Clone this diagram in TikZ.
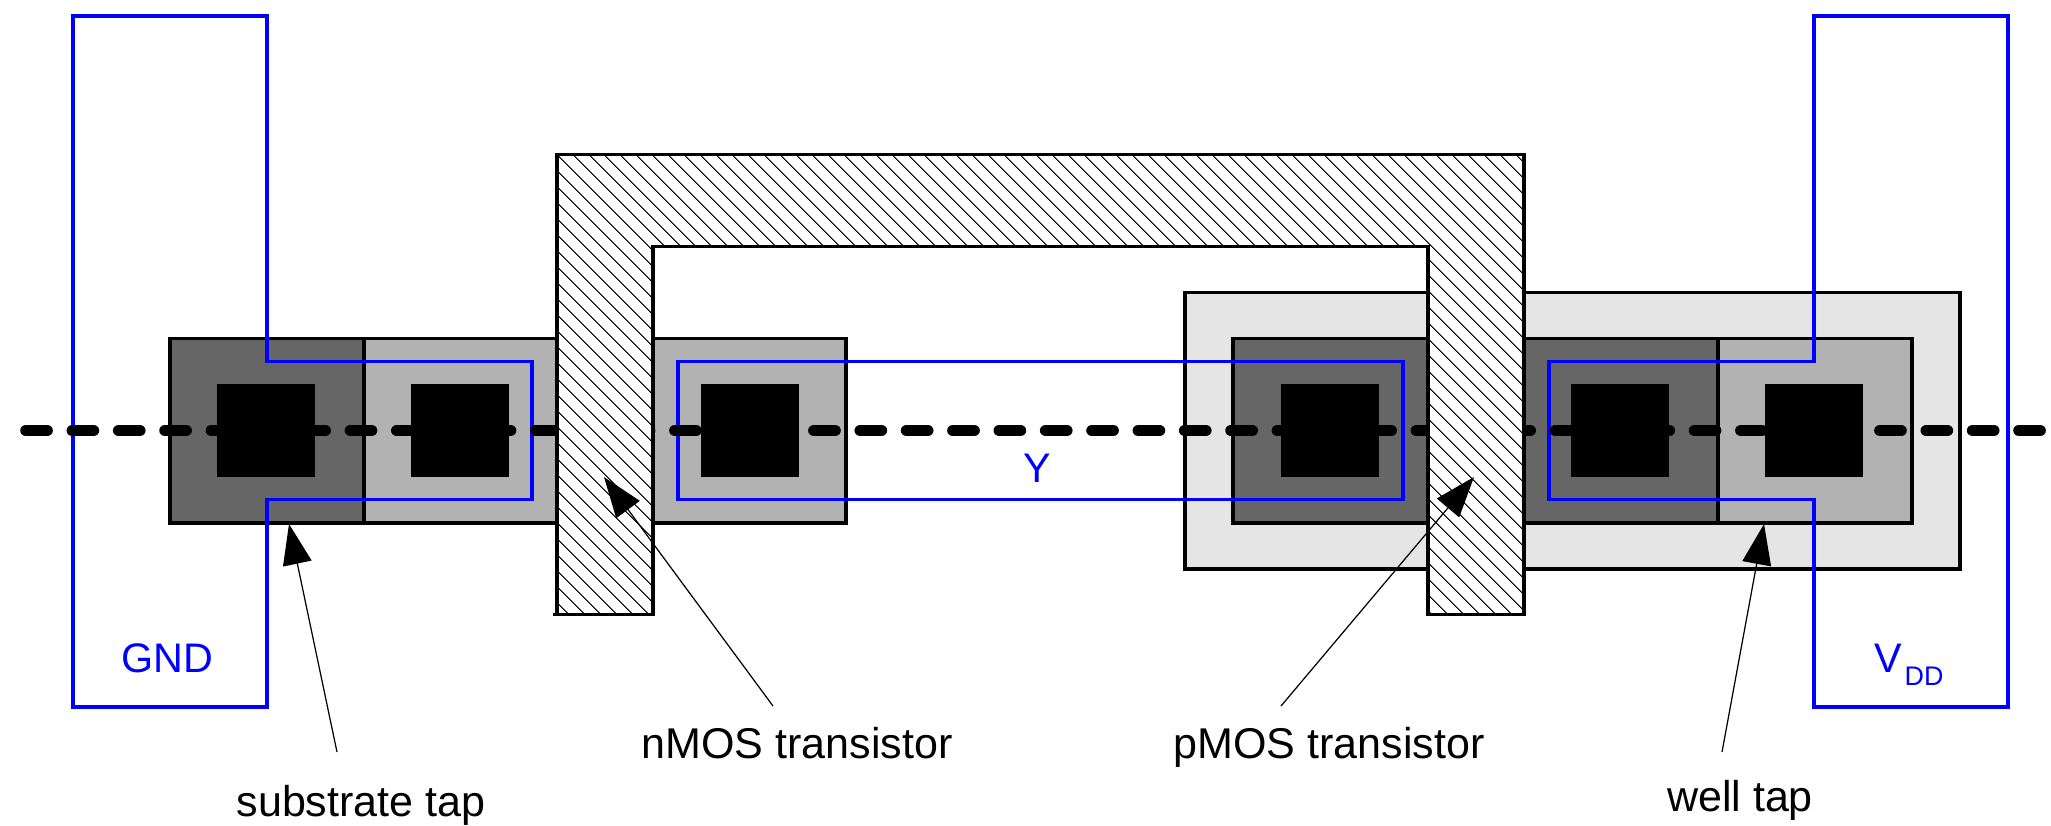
\documentclass[tikz,border=0pt]{standalone}
\usepackage{fontspec}
\setmainfont{Liberation Sans}
\usetikzlibrary{patterns.meta, arrows.meta}
\definecolor{metalblue}{RGB}{0,0,255}

\tikzset{
	layer/.style={draw=black, line width=2pt, line join=miter},
	welltub/.style={layer, fill=black!10},
	darkdiff/.style={layer, fill=black!60},
	lightdiff/.style={layer, fill=black!30},
	metal/.style={draw=metalblue, line width=2.2pt, line join=miter},
	poly/.style={layer, preaction={fill=white}, pattern={Lines[angle=-45, distance=6.4pt, line width=0.55pt]}, pattern color=black},
	callout/.style={line width=0.7pt, -{Triangle[length=23pt, width=16.5pt]}},
	blacklabel/.style={anchor=base, font=\fontsize{24.5}{28}\selectfont},
	bluelabel/.style={anchor=base, text=metalblue, font=\fontsize{23.5}{26}\selectfont}
}

\begin{document}
\begin{tikzpicture}[x=0.02cm, y=-0.02cm]
	\useasboundingbox (0,0) rectangle (2051,825);

	\draw[welltub] (1185,292.5) rectangle (1960,569); % n well
	\draw[darkdiff] (170,338.5) rectangle (364,523);
	\draw[lightdiff] (364,338.5) rectangle (557,523);
	\draw[lightdiff] (653,338.5) rectangle (846,523);
	\draw[darkdiff] (1233,338.5) rectangle (1718,523);
	\draw[lightdiff] (1718,338.5) rectangle (1912,523);

	\foreach \x in {217,411,701,1281,1571,1765} {
		\fill[black] (\x,384) rectangle (\x+98,476.5); % contacts
	}

	\draw[metal] (267,16) -- (267,361.5) -- (532,361.5) -- (532,499.5) -- (267,499.5) -- (267,707) -- (73,707) -- (73,16) -- cycle;
	\draw[metal] (678,361.5) rectangle (1403,499.5);
	\draw[metal] (1814,16) -- (1814,361.5) -- (1549,361.5) -- (1549,499.5) -- (1814,499.5) -- (1814,707) -- (2008,707) -- (2008,16) -- cycle;

	\draw[line width=6.6pt, line cap=round, dash pattern=on 12pt off 14.38pt] (26,430.5) -- (2051,430.5);

	\draw[poly] (553,614.5) -- (653,614.5) -- (653,246.5) -- (1428,246.5) -- (1428,614.5) -- (1524,614.5) -- (1524,154.5) -- (557,154.5) -- (557,614.5);

	\node[bluelabel] (gnd) at (167,672) {GND};
	\node[bluelabel] (y) at (1037.5,482) {Y};
	\node[bluelabel] (vdd) at (1909,672) {V\hspace{1.5pt}\raisebox{-7.4pt}{\fontsize{15.3}{18}\selectfont DD}};

	\node[blacklabel] (subtap) at (361,816) {substrate tap};
	\node[blacklabel] (ntrans) at (797,758) {nMOS transistor};
	\node[blacklabel] (ptrans) at (1329,758) {pMOS transistor};
	\node[blacklabel] (welltap) at (1740,811) {well tap};

	\coordinate (subtail) at (337,752);
	\coordinate (subtip) at (289,524);
	\coordinate (ntail) at (773,706);
	\coordinate (ntip) at (604,477);
	\coordinate (ptail) at (1281,706);
	\coordinate (ptip) at (1474,477);
	\coordinate (welltail) at (1722,752);
	\coordinate (welltip) at (1764,524);

	\draw[callout] (subtail) -- (subtip);
	\draw[callout] (ntail) -- (ntip);
	\draw[callout] (ptail) -- (ptip);
	\draw[callout] (welltail) -- (welltip);
\end{tikzpicture}
\end{document}
